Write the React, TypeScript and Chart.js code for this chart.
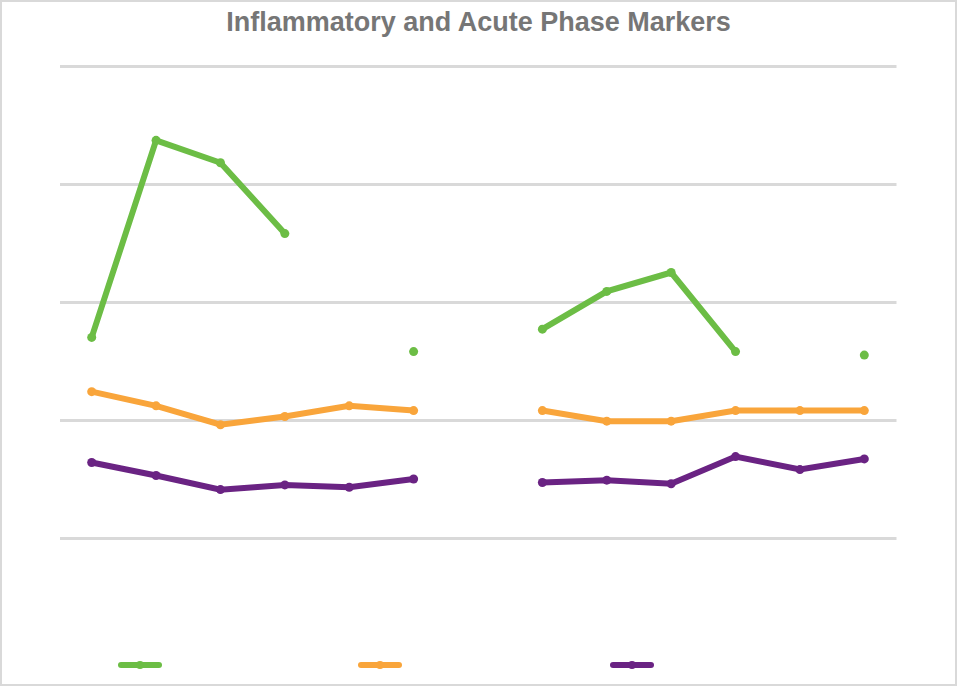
import React, { useEffect, useRef } from "react";
import Chart from "chart.js/auto";

const categories = ["1","2","3","4","5","6","7","8","9","10","11","12","13"];
const greenValues = [2.70, 4.37, 4.18, 3.58, null, 2.58, null, 2.77, 3.09, 3.25, 2.58, null, 2.55];
const orangeValues = [2.24, 2.12, 1.96, 2.03, 2.12, 2.08, null, 2.08, 1.99, 1.99, 2.08, 2.08, 2.08];
const purpleValues = [1.64, 1.53, 1.41, 1.45, 1.43, 1.50, null, 1.47, 1.49, 1.46, 1.69, 1.58, 1.67];
const colors = ["#6cbd45", "#f9a53b", "#6a2383"];

export default function App() {
  const ref = useRef<HTMLCanvasElement>(null);
  useEffect(() => {
    document.body.style.margin = "0";
    const mk = (data: (number | null)[], c: string) => ({
      data, borderColor: c, backgroundColor: c, borderWidth: 6,
      pointRadius: 4.5, pointBorderWidth: 0, spanGaps: false, tension: 0,
    });
    const chart = new Chart(ref.current!, {
      type: "line",
      data: {
        labels: categories,
        datasets: [mk(greenValues, colors[0]), mk(orangeValues, colors[1]), mk(purpleValues, colors[2])],
      },
      options: {
        animation: false, responsive: false, maintainAspectRatio: false,
        layout: { padding: { top: 6, bottom: 6, left: 0, right: 0 } },
        plugins: { legend: { display: false }, title: { display: false }, tooltip: { enabled: false } },
        scales: {
          x: { display: false, offset: true },
          y: { min: 1, max: 5, ticks: { display: false, stepSize: 1 }, border: { display: false },
               grid: { color: "#d9d9d9", lineWidth: 3, drawTicks: false } },
        },
      },
    });
    return () => chart.destroy();
  }, []);
  const legendX = [140, 380, 632];
  return (
    <div style={{ position: "relative", width: 953, height: 682, border: "2px solid #d9d9d9", background: "#fff", fontFamily: "'Liberation Sans', Arial, sans-serif" }}>
      <div style={{ position: "absolute", top: 5, left: 0, width: "100%", textAlign: "center", fontSize: 27, fontWeight: "bold", color: "#767676" }}>
        Inflammatory and Acute Phase Markers
      </div>
      <canvas ref={ref} width={846} height={484} style={{ position: "absolute", left: 53, top: 58 }} />
      {legendX.map((x, i) => (
        <div key={i} style={{ position: "absolute", left: x - 2 - 22, top: 663 - 2 - 1, width: 44, height: 6, background: colors[i], borderRadius: 3 }}>
          <div style={{ position: "absolute", left: 18, top: -1, width: 8, height: 8, borderRadius: 4, background: colors[i] }} />
        </div>
      ))}
    </div>
  );
}
